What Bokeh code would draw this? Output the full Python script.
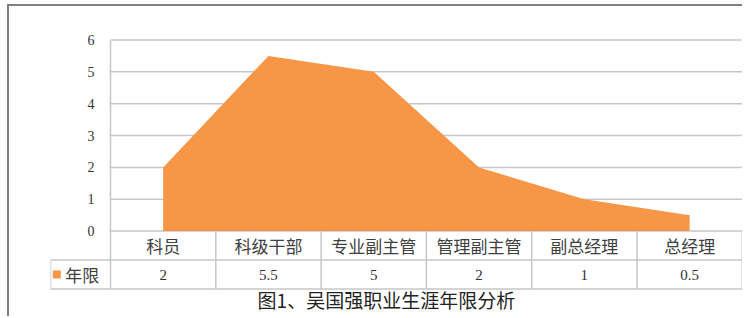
from bokeh.plotting import figure
from bokeh.models import Range1d, FixedTicker
from bokeh.core.properties import value
from bokeh.embed import file_html
from bokeh.resources import INLINE

# ---- data ----
categories = ["科员", "科级干部", "专业副主管", "管理副主管", "副总经理", "总经理"]
years = [2, 5.5, 5, 2, 1, 0.5]
value_labels = ["2", "5.5", "5", "2", "1", "0.5"]
series_name = "年限"
title_text = "图1、吴国强职业生涯年限分析"
y_ticks = [0, 1, 2, 3, 4, 5, 6]

ORANGE = "#F79646"
GRID = "#c6c6c6"
TEXT = "#333333"
SERIF = "Liberation Serif"
CJK = "Noto Sans CJK SC"

UNIT = 105.3          # px per category column
PX_Y = 31.85          # px per value unit
ROW = 29 / PX_Y       # table row height in value units
n = len(categories)
xs = [i + 0.5 for i in range(n)]
bounds_x = list(range(n + 1))
x_right = 634 / UNIT
x_left_tbl = -60 / UNIT

p = figure(width=735, height=312, output_backend="svg", toolbar_location=None,
           x_range=Range1d(x_left_tbl, x_right),
           y_range=Range1d(-87.4 / PX_Y, 224.6 / PX_Y),
           x_axis_location=None,
           min_border_left=41, min_border_right=0, min_border_top=0, min_border_bottom=0,
           styles={"margin": "4px 0 0 7px",
                   "border-top": "2px solid #808080",
                   "border-left": "2px solid #808080"})
p.outline_line_color = None
p.grid.visible = False

# value axis, drawn at the left edge of the category columns
p.yaxis.ticker = FixedTicker(ticks=y_ticks)
p.yaxis.bounds = (0, 6)
p.yaxis.fixed_location = 0
p.yaxis.axis_line_color = GRID
p.yaxis.axis_line_width = 1.5
p.yaxis.major_tick_line_color = None
p.yaxis.minor_tick_line_color = None
p.yaxis.major_label_standoff = 10
p.yaxis.major_label_text_font = SERIF
p.yaxis.major_label_text_font_size = "14px"
p.yaxis.major_label_text_color = TEXT

# horizontal gridlines
p.segment(x0=[0] * len(y_ticks), y0=y_ticks, x1=[x_right] * len(y_ticks), y1=y_ticks,
          line_color=GRID, line_width=1.5, level="underlay")

# area series
p.varea(x=xs, y1=[0] * n, y2=years, fill_color=ORANGE)

# data table
p.segment(x0=bounds_x, y0=[0] * (n + 1), x1=bounds_x, y1=[-2 * ROW] * (n + 1),
          line_color=GRID, line_width=1.5)
p.segment(x0=[x_left_tbl, x_left_tbl, x_left_tbl], y0=[-ROW, -ROW, -2 * ROW],
          x1=[x_left_tbl, n, n], y1=[-2 * ROW, -ROW, -2 * ROW],
          line_color=GRID, line_width=1.5)

p.text(x=xs, y=[-0.5 * ROW] * n, text=categories, text_font=value(CJK),
       text_font_size="17px", text_color="#404040",
       text_align="center", text_baseline="middle")
p.text(x=xs, y=[-1.5 * ROW] * n, text=value_labels, text_font=value(SERIF),
       text_font_size="15px", text_color=TEXT,
       text_align="center", text_baseline="middle")
p.scatter(x=[-0.51], y=[-1.5 * ROW], marker="square", size=8,
          fill_color=ORANGE, line_color=None)
p.text(x=[-0.43], y=[-1.5 * ROW], text=[series_name], text_font=value(CJK),
       text_font_size="17px", text_color="#404040",
       text_align="left", text_baseline="middle")

# caption
p.text(x=[2.62], y=[-2.36 * ROW], text=[title_text], text_font=value(CJK),
       text_font_size="19px", text_color="#222222",
       text_align="center", text_baseline="middle")

open("out.html", "w").write(file_html(p, INLINE))
